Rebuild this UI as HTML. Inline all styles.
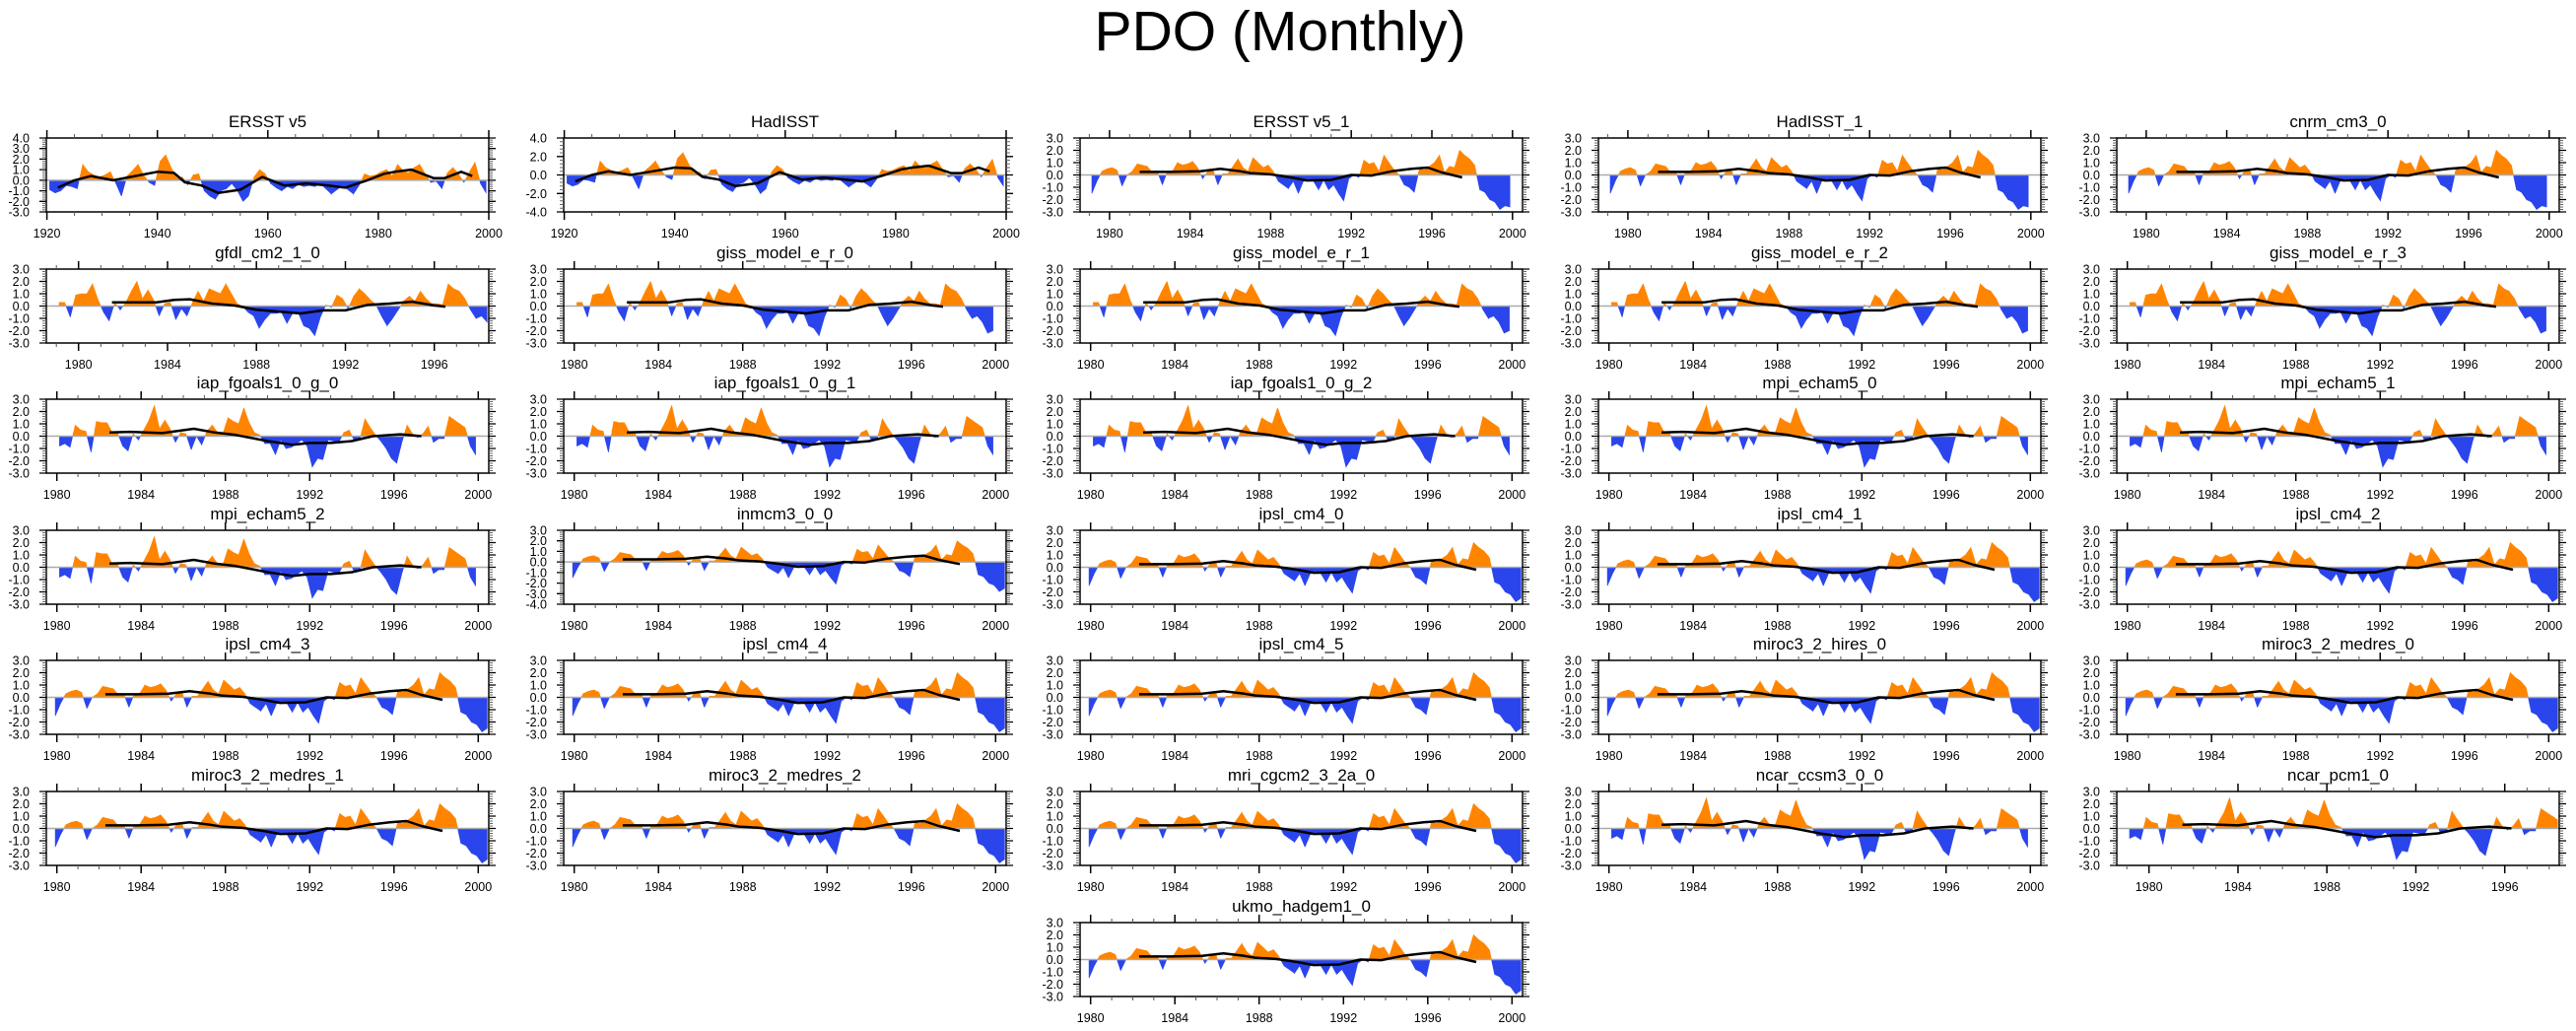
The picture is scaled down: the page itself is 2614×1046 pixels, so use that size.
<!DOCTYPE html>
<html><head><meta charset="utf-8"><title>PDO (Monthly)</title>
<style>
html,body{margin:0;padding:0;background:#fff;}
svg{display:block;font-family:"Liberation Sans",Arial,sans-serif;}
</style></head>
<body>
<svg id="chart" width="2614" height="1046" viewBox="0 0 2614 1046" xmlns="http://www.w3.org/2000/svg">
<rect x="0" y="0" width="2614" height="1046" fill="#fff"/>
<text x="1299" y="51" font-size="57" text-anchor="middle" fill="#000">PDO (Monthly)</text>
</svg>
<script>
// ---- data (quarterly PDO index values) ----
const seriesA = [-1.5,-0.5,0.3,0.5, 0.6,0.4,-0.9,0.0, 0.3,0.9,0.8,0.7, 0.2,0.3,-0.8,0.3, 0.3,1.0,0.8,0.9, 1.1,0.6,-0.3,0.3, 0.5,-0.8,0.1,0.1, 0.7,1.3,0.6,0.3, 1.4,1.0,0.6,0.8, 0.3,-0.5,-0.8,-1.1, -0.5,-1.5,-0.5,-0.3, -0.5,-1.2,-0.4,-1.2, -0.8,-1.5,-2.1,-0.3, 0.0,-0.2,1.2,0.9, 1.0,0.3,1.6,1.0, 0.4,0.0,-0.8,-1.0, -1.4,0.5,0.4,0.7, 1.0,1.6,0.2,0.7, 0.6,2.0,1.6,1.3, 0.8,-1.2,-1.4,-2.0, -2.2,-2.8,-2.5,-2.6];
const smoothAYears = [1981.5,1983,1984.5,1985.5,1986.5,1987,1988,1989,1989.8,1991,1992,1993,1994,1995,1995.8,1996.5,1997.5];
const smoothAVals  = [0.25,0.25,0.3,0.5,0.3,0.15,0.05,-0.2,-0.45,-0.4,0.0,-0.05,0.3,0.5,0.6,0.2,-0.2];

const seriesB = [0.3,0.3,-0.9,0.9, 1.0,1.0,1.8,0.5, -0.5,-1.2,0.3,-0.3, 0.3,1.2,2.0,0.6, 1.3,0.5,-0.8,0.2, 0.3,-1.1,-0.2,-0.8, 0.3,1.2,0.4,1.4, 1.2,1.0,1.8,1.0, 0.2,0.0,-0.5,-0.8, -1.8,-1.1,-0.6,-0.6, -0.5,-1.4,-0.6,-0.5, -1.6,-1.8,-2.4,-0.9, 0.1,-0.1,0.9,0.6, -0.2,0.8,1.4,1.0, 0.5,0.1,-0.8,-1.6, -1.0,-0.3,0.4,0.8, 0.4,1.2,0.6,0.2, 0.2,0.1,1.8,1.4, 1.2,0.6,-0.3,-1.0, -0.8,-1.3,-2.2,-2.0];
const smoothBYears = [1982.5,1983.5,1984.5,1985.3,1986,1987,1988,1989,1990,1991,1992,1993,1994,1995,1996,1997,1997.5];
const smoothBVals  = [0.3,0.3,0.3,0.5,0.55,0.2,0.05,-0.3,-0.45,-0.6,-0.35,-0.35,0.1,0.2,0.35,0.05,-0.05];

const seriesC = [-0.8,-0.6,-0.9,0.9, 0.5,0.4,-1.3,1.2, 1.1,1.1,0.3,0.3, -0.8,-1.2,0.2,-0.3, 0.5,1.3,2.5,0.6, 1.3,0.6,-0.5,0.3, 0.2,-1.1,0.0,-0.7, 0.4,0.9,0.3,0.2, 1.5,1.2,1.0,2.3, 1.1,0.3,0.1,-0.6, -0.6,-1.5,-0.3,-1.0, -0.9,-0.6,-0.3,-0.8, -2.5,-1.8,-1.9,-0.3, -0.4,-0.5,0.3,0.5, -0.4,-0.3,1.4,0.7, 0.1,-0.4,-1.0,-1.8, -2.2,-0.5,0.9,0.2, -0.1,0.2,0.8,-0.5, -0.2,-0.2,1.6,1.3, 1.0,0.7,-0.8,-1.5];
const smoothCYears = [1982.5,1983.5,1985,1986.5,1987.5,1988.5,1990,1991.2,1992,1993,1994,1995,1996.3,1997.3];
const smoothCVals  = [0.3,0.35,0.25,0.6,0.3,0.1,-0.4,-0.7,-0.55,-0.55,-0.4,0.0,0.15,0.0];

// annual values 1920-1999
const seriesE = [-0.9,-1.2,-1.0,-0.5,-0.6,-0.8,1.5,0.8,0.5,0.3, 0.5,0.8,-0.3,-1.5,0.4,0.9,1.5,0.5,-0.2,-0.5, 1.8,2.4,1.2,0.2,0.3,-0.4,0.5,0.6,-1.0,-1.5, -1.8,-1.0,-0.8,-0.3,-1.0,-2.0,-1.5,0.3,1.0,0.6, -0.3,-0.7,-1.0,-0.6,-0.8,-0.4,-0.6,-0.5,-0.6,-0.3, -0.8,-1.3,-0.9,-0.5,-0.9,-1.3,-0.5,0.6,0.4,0.5, 0.8,1.0,0.4,1.5,0.9,0.7,1.2,1.5,0.6,-0.2, -0.1,-0.8,0.7,1.2,0.6,-0.2,0.8,1.7,-0.3,-1.2];
const smoothEYears = [1922,1925,1928,1932,1936,1940,1943,1945,1948,1951,1955,1959,1963,1967,1971,1974,1978,1981,1983,1986,1990,1992,1995,1997];
const smoothEVals  = [-0.7,0.0,0.4,0.0,0.4,0.8,0.7,-0.2,-0.5,-1.2,-0.9,0.3,-0.5,-0.3,-0.5,-0.7,0.0,0.6,0.8,1.0,0.2,0.2,0.8,0.4];

const panelNames = ["ERSST v5","HadISST","ERSST v5_1","HadISST_1","cnrm_cm3_0",
 "gfdl_cm2_1_0","giss_model_e_r_0","giss_model_e_r_1","giss_model_e_r_2","giss_model_e_r_3",
 "iap_fgoals1_0_g_0","iap_fgoals1_0_g_1","iap_fgoals1_0_g_2","mpi_echam5_0","mpi_echam5_1",
 "mpi_echam5_2","inmcm3_0_0","ipsl_cm4_0","ipsl_cm4_1","ipsl_cm4_2",
 "ipsl_cm4_3","ipsl_cm4_4","ipsl_cm4_5","miroc3_2_hires_0","miroc3_2_medres_0",
 "miroc3_2_medres_1","miroc3_2_medres_2","mri_cgcm2_3_2a_0","ncar_ccsm3_0_0","ncar_pcm1_0",
 "ukmo_hadgem1_0"];
const panelTypes = ["E","E2","Aobs","Aobs","Aobs",
 "D","B","B","B","B",
 "C","C","C","C","C",
 "C","Ain","Am","Am","Am",
 "Am","Am","Am","Am","Am",
 "Am","Am","Am","C","Dc",
 "Am"];

// ---- layout ----
const colLeft=[47,572,1096,1622,2148], rowTop=[140,273,405,538,670,803,936];
const PW=449, PH=75;
const svg=document.getElementById('chart');
const NS='http://www.w3.org/2000/svg';
function mk(tag,attrs,parent){const e=document.createElementNS(NS,tag);for(const k in attrs)e.setAttribute(k,attrs[k]);(parent||svg).appendChild(e);return e;}

function cfg(t){
  if(t==='E') return {data:seriesE,step:1,start:1920,sy:smoothEYears,sv:smoothEVals,shift:0,xmin:1919.9,xmax:2000,xmaj:20,xmin2:5,xlab0:1920,xlab1:2000,ymin:-3,ymax:4,ylab:1};
  if(t==='E2') return {data:seriesE,step:1,start:1920,sy:smoothEYears,sv:smoothEVals,shift:0,xmin:1919.9,xmax:2000,xmaj:20,xmin2:5,xlab0:1920,xlab1:2000,ymin:-4,ymax:4,ylab:2};
  if(t==='Aobs') return {data:seriesA,step:0.25,start:1979,sy:smoothAYears,sv:smoothAVals,shift:0,xmin:1978.54,xmax:2000.5,xmaj:4,xmin2:1,xlab0:1980,xlab1:2000,ymin:-3,ymax:3,ylab:1};
  if(t==='Am') return {data:seriesA,step:0.25,start:1979,sy:smoothAYears,sv:smoothAVals,shift:0.8,xmin:1979.5,xmax:2000.5,xmaj:4,xmin2:1,xlab0:1980,xlab1:2000,ymin:-3,ymax:3,ylab:1};
  if(t==='Ain') return {data:seriesA,step:0.25,start:1979,sy:smoothAYears,sv:smoothAVals,shift:0.8,xmin:1979.5,xmax:2000.5,xmaj:4,xmin2:1,xlab0:1980,xlab1:2000,ymin:-4,ymax:3,ylab:1};
  if(t==='B') return {data:seriesB,step:0.25,start:1980,sy:smoothBYears,sv:smoothBVals,shift:0,xmin:1979.5,xmax:2000.5,xmaj:4,xmin2:1,xlab0:1980,xlab1:2000,ymin:-3,ymax:3,ylab:1};
  if(t==='C') return {data:seriesC,step:0.25,start:1980,sy:smoothCYears,sv:smoothCVals,shift:0,xmin:1979.5,xmax:2000.5,xmaj:4,xmin2:1,xlab0:1980,xlab1:2000,ymin:-3,ymax:3,ylab:1};
  if(t==='D') return {data:seriesB,step:0.25,start:1980,sy:smoothBYears,sv:smoothBVals,shift:-1,xmin:1978.55,xmax:1998.45,xmaj:4,xmin2:1,xlab0:1980,xlab1:1996,ymin:-3,ymax:3,ylab:1};
  return {data:seriesC,step:0.25,start:1980,sy:smoothCYears,sv:smoothCVals,shift:-1,xmin:1978.55,xmax:1998.45,xmaj:4,xmin2:1,xlab0:1980,xlab1:1996,ymin:-3,ymax:3,ylab:1};
}

panelNames.forEach((name,i)=>{
  const col = i<30 ? i%5 : 2, row = i<30 ? Math.floor(i/5) : 6;
  const L=colLeft[col], T=rowTop[row], c=cfg(panelTypes[i]);
  const xs=v=>L+(v-c.xmin)/(c.xmax-c.xmin)*PW;
  const ys=v=>T+(c.ymax-v)/(c.ymax-c.ymin)*PH;
  const g=mk('g',{});
  
  
  const title=mk('text',{x:L+PW/2,y:T-11,'font-size':17,'text-anchor':'middle',fill:'#000'},g);
  title.textContent=name;
  
  
  // filled areas above/below zero
  const y0=ys(0);
  const P=[];
  c.data.forEach((v,k)=>{
    const yr=c.start+c.shift+k*c.step+c.step/2;
    if(yr<c.xmin||yr>c.xmax) return;
    P.push([xs(yr),v]);
  });
  let posD='',negD='';
  for(let k=0;k<P.length-1;k++){
    const [xa,va]=P[k],[xb,vb]=P[k+1];
    const segs=[];
    if((va>=0)===(vb>=0)) segs.push([xa,va,xb,vb]);
    else { const xm=xa+(xb-xa)*(va/(va-vb)); segs.push([xa,va,xm,0]); segs.push([xm,0,xb,vb]); }
    segs.forEach(s=>{
      const pos=(s[1]+s[3])>=0;
      const d=`M${s[0].toFixed(1)},${y0.toFixed(1)}L${s[0].toFixed(1)},${ys(s[1]).toFixed(1)}L${s[2].toFixed(1)},${ys(s[3]).toFixed(1)}L${s[2].toFixed(1)},${y0.toFixed(1)}Z`;
      if(pos) posD+=d; else negD+=d;
    });
  }
  const pa=mk('path',{d:posD,fill:'#ff8500',stroke:'#ff8500','stroke-width':0.6},g);
  
  
  const na=mk('path',{d:negD,fill:'#2a45ec',stroke:'#2a45ec','stroke-width':0.6},g);
  
  
  const zl=mk('line',{x1:L,x2:L+PW,y1:y0,y2:y0,stroke:'#aaa','stroke-width':1.5},g);
  
  
  // smooth line
  const pts=c.sy.map((yr,k)=>xs(yr+c.shift).toFixed(1)+','+ys(c.sv[k]).toFixed(1)).join(' ');
  const sl=mk('polyline',{points:pts,fill:'none',stroke:'#000','stroke-width':2.5,'stroke-linejoin':'round'},g);
  
  
  // frame
  const fr=mk('rect',{x:L,y:T,width:PW,height:PH,fill:'none',stroke:'#000','stroke-width':1.5},g);
  
  
  // x ticks
  let d='',dm='';
  for(let yr=Math.ceil(c.xmin);yr<=c.xmax;yr+=c.xmin2){
    const x=xs(yr).toFixed(1);
    const major=((yr-c.xlab0)%c.xmaj===0);
    const len=major?8:4;
    if(major) d+=`M${x},${T}v${-len}M${x},${T+PH}v${len}`; else dm+=`M${x},${T}v${-len}M${x},${T+PH}v${len}`;
  }
  const xt=mk('path',{d:d,stroke:'#000','stroke-width':1.5,fill:'none'},g);
  
  
  const xtm=mk('path',{d:dm,stroke:'#555','stroke-width':1,fill:'none'},g);
  
  
  for(let yr=c.xlab0;yr<=c.xlab1;yr+=c.xmaj){
    const t=mk('text',{x:xs(yr),y:T+PH+26,'font-size':12.5,'text-anchor':'middle',fill:'#000'},g);
    t.textContent=String(yr);
    
    
  }
  // y ticks
  let yd='',ydm='';
  const mstep=c.ylab/5;
  for(let k=0;k<=Math.round((c.ymax-c.ymin)/mstep);k++){
    const v=c.ymin+k*mstep, y=ys(v).toFixed(1);
    if(k%5===0){yd+=`M${L},${y}h-7M${L+PW},${y}h7`;}
    else ydm+=`M${L},${y}h-4M${L+PW},${y}h4`;
  }
  const yt=mk('path',{d:yd,stroke:'#000','stroke-width':1.3,fill:'none'},g);
  
  
  const ytm=mk('path',{d:ydm,stroke:'#666','stroke-width':1,fill:'none'},g);
  
  
  for(let v=c.ymin;v<=c.ymax+1e-9;v+=c.ylab){
    const t=mk('text',{x:L-17,y:ys(v)+4.5,'font-size':12.5,'text-anchor':'end',fill:'#000'},g);
    t.textContent=v.toFixed(1);
    
    
  }
});
</script>
</body></html>
